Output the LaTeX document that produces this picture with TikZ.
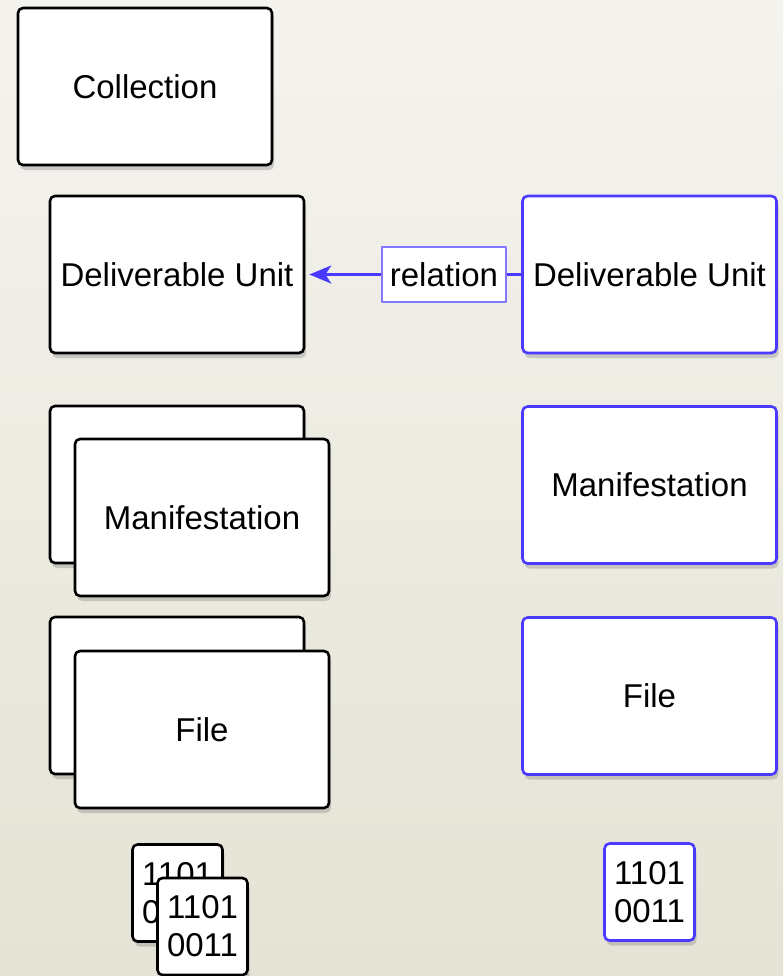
\documentclass[tikz,border=0pt]{standalone}
\usepackage{fontspec}
\setmainfont{Liberation Sans}
\usetikzlibrary{arrows.meta,shadows}
\definecolor{bgtop}{RGB}{244,243,238}
\definecolor{bgbot}{RGB}{229,227,213}
\definecolor{relblue}{RGB}{74,58,255}
\definecolor{relframe}{RGB}{130,120,255}

\begin{document}
\begin{tikzpicture}[x=0.5pt,y=-0.5pt,font=\fontsize{16.5}{19}\selectfont,line join=round,
  card/.style={draw=black,line width=1.3pt,fill=white,rounded corners=2.5pt,inner sep=0pt,
    minimum width=127pt,minimum height=78.5pt,
    drop shadow={shadow xshift=1pt,shadow yshift=-2.5pt,opacity=0.35}},
  bluecard/.style={card,draw=relblue},
  bits/.style={card,minimum width=45pt,minimum height=48.5pt,align=center},
  relbox/.style={draw=relframe,line width=0.6pt,fill=white,inner sep=0pt,minimum width=62pt,minimum height=27.5pt},
  link/.style={relblue,line width=1.5pt}]
\useasboundingbox (0,0) rectangle (783,976);
\shade[top color=bgtop,bottom color=bgbot] (0,0) rectangle (783,976);
\node[card] (coll) at (145,86.5) {Collection};
\node[card] (duA) at (177,274.5) {Deliverable Unit};
\node[bluecard] (duB) at (649.5,274.5) {Deliverable Unit};
\node[relbox] (rel) at (444,274.5) {relation};
\draw[link,-{Stealth[length=11pt,width=9pt,inset=3pt]},shorten >=2pt] (rel) -- (duA);
\draw[link] (rel) -- (duB);
\node[card] (manAback) at (177,484.5) {};
\node[card] (manA) at (202,517.5) {Manifestation};
\node[bluecard] (manB) at (649.5,485) {Manifestation};
\node[card] (fileAback) at (177,695.5) {};
\node[card] (fileA) at (202,729.5) {File};
\node[bluecard] (fileB) at (649.5,696) {File};
\node[bits] (bitsAback) at (177.5,893) {1101\\0011};
\node[bits] (bitsA) at (202.5,926.5) {1101\\0011};
\node[bits,draw=relblue] (bitsB) at (649.5,892) {1101\\0011};
\end{tikzpicture}
\end{document}
